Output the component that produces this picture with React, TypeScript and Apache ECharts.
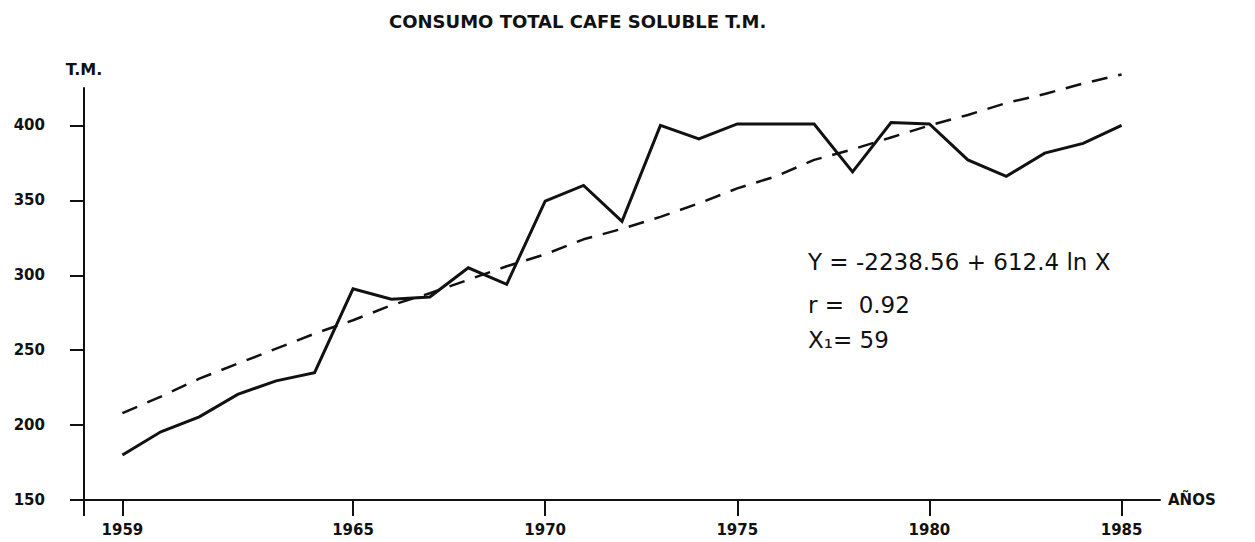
import React, { useEffect, useRef } from "react";
import * as echarts from "echarts";

// ---- data ----
const years = [
  1959, 1960, 1961, 1962, 1963, 1964, 1965, 1966, 1967, 1968, 1969, 1970, 1971, 1972,
  1973, 1974, 1975, 1976, 1977, 1978, 1979, 1980, 1981, 1982, 1983, 1984, 1985,
];
// observed total consumption (T.M.)
const consumo = [
  180, 195.5, 205.5, 220.5, 229.5, 235, 291, 284, 285.5, 305, 294, 349.5, 360, 336,
  400, 391, 401, 401, 401, 369, 402, 401, 377, 366, 381.5, 388, 400,
];
// fitted logarithmic trend (dashed), as drawn in the reference
const tendencia = [
  208, 219, 231, 241, 251, 261, 270, 280, 288, 297, 306, 314, 324, 331,
  339, 348, 358, 366, 377, 384, 392, 400, 407, 415, 421, 428, 434,
];
const yTicks = [150, 200, 250, 300, 350, 400];
const xTicks = [1959, 1965, 1970, 1975, 1980, 1985];
const titleText = "CONSUMO TOTAL CAFE SOLUBLE T.M.";
const yName = "T.M.";
const xName = "AÑOS";
const equationLines = ["Y = -2238.56 + 612.4 ln X", "r =  0.92", "X₁= 59"];

export default function App() {
  const ref = useRef<HTMLDivElement>(null);

  useEffect(() => {
    if (!ref.current) return;
    const chart = echarts.init(ref.current, null, { renderer: "svg" });
    const ink = "#111111";
    const font = "DejaVu Sans";

    const observed = years.map((y, i) => [y, consumo[i]]);
    const trend = years.map((y, i) => [y, tendencia[i]]);

    const eqY = [262, 305, 340];

    chart.setOption({
      animation: false,
      backgroundColor: "#ffffff",
      title: {
        text: titleText,
        left: 384,
        top: 7,
        textStyle: { fontFamily: font, fontWeight: "bold", fontSize: 18, color: ink },
      },
      grid: { left: 84, top: 88, width: 1076, height: 412 },
      xAxis: {
        type: "value",
        min: 1958,
        max: 1986,
        name: xName,
        nameLocation: "end",
        nameGap: 8,
        nameTextStyle: {
          fontFamily: font,
          fontWeight: "bold",
          fontSize: 15,
          color: ink,
          padding: [0, 0, 20, 0],
        },
        axisLine: { lineStyle: { color: ink, width: 2 } },
        axisTick: {
          customValues: [1958, ...xTicks],
          length: 16,
          lineStyle: { color: ink, width: 2 },
        },
        axisLabel: {
          customValues: xTicks,
          margin: 22,
          fontFamily: font,
          fontWeight: "bold",
          fontSize: 15,
          color: ink,
          formatter: (v: number) => String(v),
        },
        splitLine: { show: false },
      },
      yAxis: {
        type: "value",
        min: 150,
        max: 425,
        interval: 50,
        name: yName,
        nameLocation: "end",
        nameGap: 11,
        nameTextStyle: { fontFamily: font, fontWeight: "bold", fontSize: 16, color: ink },
        axisLine: { show: true, lineStyle: { color: ink, width: 2 } },
        axisTick: {
          show: true,
          customValues: yTicks,
          length: 14,
          lineStyle: { color: ink, width: 2 },
        },
        axisLabel: {
          customValues: yTicks,
          margin: 39,
          fontFamily: font,
          fontWeight: "bold",
          fontSize: 15,
          color: ink,
        },
        splitLine: { show: false },
      },
      series: [
        {
          name: "consumo",
          type: "line",
          data: observed,
          symbol: "none",
          clip: false,
          lineStyle: { color: ink, width: 3, join: "miter" },
          z: 3,
        },
        {
          name: "tendencia",
          type: "line",
          data: trend,
          symbol: "none",
          clip: false,
          lineStyle: { color: ink, width: 2.5, type: [16, 11] },
          z: 2,
        },
      ],
      graphic: equationLines.map((t, i) => ({
        type: "text",
        x: 808,
        y: eqY[i],
        style: {
          text: t,
          fill: ink,
          fontFamily: font,
          fontSize: 23,
          verticalAlign: "middle",
        },
      })),
    });

    return () => chart.dispose();
  }, []);

  return (
    <div
      ref={ref}
      style={{ position: "fixed", left: 0, top: 0, width: 1255, height: 542 }}
    />
  );
}
